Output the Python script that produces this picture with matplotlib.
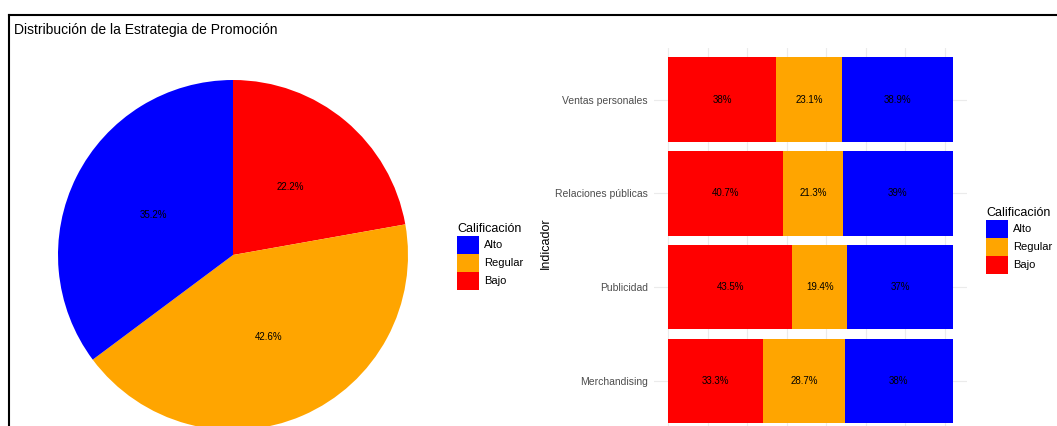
import matplotlib
matplotlib.use("Agg")
import matplotlib.pyplot as plt
import numpy as np
from matplotlib.lines import Line2D
from matplotlib.patches import Patch

plt.rcParams["font.family"] = ["Liberation Sans", "DejaVu Sans"]

W, H = 1057, 426

LEVELS = ["Alto", "Regular", "Bajo"]
COLORS = {"Alto": "#0000FF", "Regular": "#FFA500", "Bajo": "#FF0000"}

# overall distribution (%), drawn clockwise from 12 o'clock
PIE_LEVELS = ["Bajo", "Regular", "Alto"]
PIE_PCT = [22.2, 42.6, 35.2]

# per-indicator distribution (%), bottom to top
INDICATORS = ["Merchandising", "Publicidad", "Relaciones públicas", "Ventas personales"]
BAJO = [33.3, 43.5, 40.7, 38.0]
REGULAR = [28.7, 19.4, 21.3, 23.1]
ALTO = [38.0, 37.0, 39.0, 38.9]

N_RESP = 108  # respondents per indicator, one gridline every 15


def px_axes(fig, left, top, right, bottom):
    """Add axes from pixel edges measured from the top-left corner."""
    return fig.add_axes([left / W, 1 - bottom / H, (right - left) / W, (bottom - top) / H])


def fmt(v):
    return f"{v:g}%"


fig = plt.figure(figsize=(W / 100, H / 100), dpi=100)
fig.patch.set_facecolor("white")

# outer frame
fig.add_artist(Line2D([9 / W, 1], [1 - 15 / H, 1 - 15 / H], color="black", lw=1.5))
fig.add_artist(Line2D([9 / W, 9 / W], [1 - 15 / H, 0], color="black", lw=1.5))

fig.text(14 / W, 1 - 30 / H, "Distribución de la Estrategia de Promoción",
         fontsize=10, va="center", ha="left")

# pie
ax1 = px_axes(fig, 58, 80, 408, 430)
ax1.pie(PIE_PCT, colors=[COLORS[k] for k in PIE_LEVELS], startangle=90,
        counterclock=False, radius=1,
        autopct=lambda p: fmt(round(p, 1)), pctdistance=0.51,
        textprops={"fontsize": 7, "color": "black"})
ax1.set_xlim(-1, 1)
ax1.set_ylim(-1, 1)
ax1.set_aspect("equal")

handles = [Patch(facecolor=COLORS[k], edgecolor="none") for k in LEVELS]
leg_kw = dict(loc="upper left", frameon=False, fontsize=8, title_fontsize=9,
              handlelength=2.0, handleheight=2.05, handletextpad=0.4,
              labelspacing=0.05, borderpad=0, borderaxespad=0, alignment="left")
fig.legend(handles, LEVELS, title="Calificación",
           bbox_to_anchor=(457 / W, 1 - 223.5 / H), **leg_kw)

# stacked bars, each row filled to 100%
ax2 = px_axes(fig, 654, 48, 967, 437.4)
y = np.arange(len(INDICATORS))
total = np.array(BAJO) + np.array(REGULAR) + np.array(ALTO)
left = np.zeros(len(y))
for name, vals in (("Bajo", BAJO), ("Regular", REGULAR), ("Alto", ALTO)):
    width = np.array(vals) / total * 100
    bars = ax2.barh(y, width, left=left, height=0.9, color=COLORS[name], zorder=2)
    ax2.bar_label(bars, labels=[fmt(v) for v in vals], label_type="center",
                  fontsize=7, color="black")
    left = left + width

ax2.set_xlim(-5, 105)
ax2.set_ylim(-0.6, 3.55)
ax2.set_xticks(np.arange(0, 100, 100 * 15 / N_RESP))
ax2.set_yticks(y, INDICATORS)
ax2.grid(True, color="#EBEBEB", lw=0.8, zorder=0)
ax2.tick_params(axis="both", length=0, labelsize=7.5, labelcolor="#4D4D4D", pad=4.5)
ax2.tick_params(axis="x", labelbottom=False)
for s in ax2.spines.values():
    s.set_visible(False)
ax2.set_ylabel("Indicador", fontsize=9, labelpad=2)

fig.legend(handles, LEVELS, title="Calificación",
           bbox_to_anchor=(986 / W, 1 - 207.5 / H), **leg_kw)

fig.savefig("out.png", dpi=100)
